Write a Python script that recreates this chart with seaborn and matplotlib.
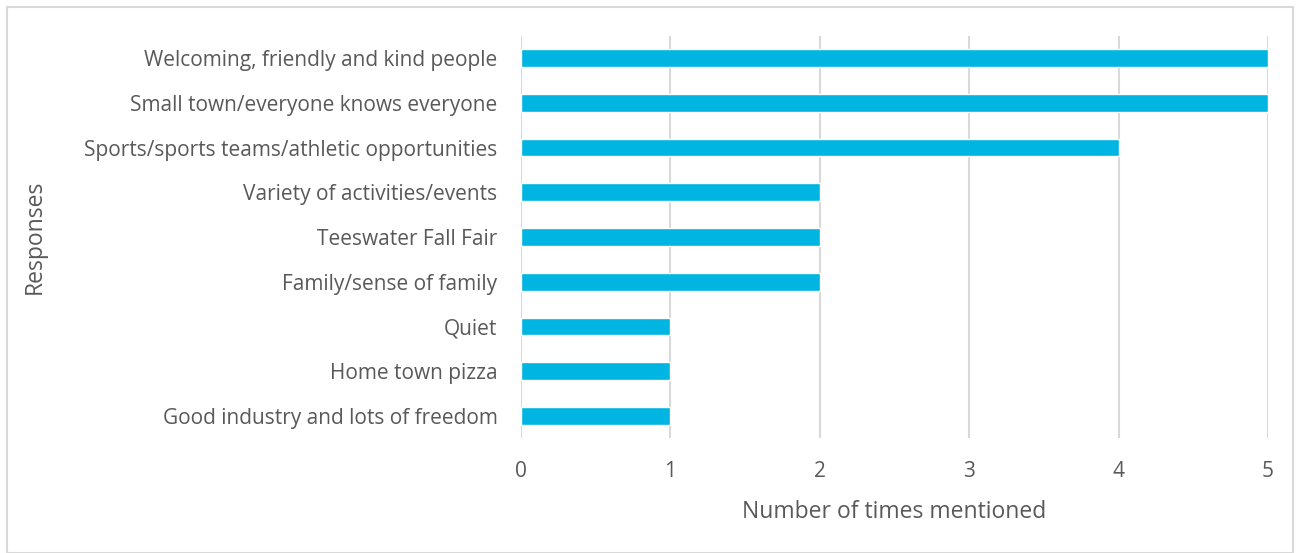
import matplotlib
matplotlib.use("Agg")
import matplotlib.pyplot as plt
import seaborn as sns
import pandas as pd

responses = [
    "Welcoming, friendly and kind people",
    "Small town/everyone knows everyone",
    "Sports/sports teams/athletic opportunities",
    "Variety of activities/events",
    "Teeswater Fall Fair",
    "Family/sense of family",
    "Quiet",
    "Home town pizza",
    "Good industry and lots of freedom",
]
counts = [5, 5, 4, 2, 2, 2, 1, 1, 1]

df = pd.DataFrame({"Responses": responses, "Count": counts})

sns.set_style("white")
plt.rcParams["font.family"] = ["Open Sans", "DejaVu Sans"]
text_color = "#595959"

fig = plt.figure(figsize=(13, 5.53), dpi=100)
ax = fig.add_axes([0.4008, 0.2072, 0.5746, 0.7284])

sns.barplot(data=df, x="Count", y="Responses", ax=ax, color="#00B5E2",
            width=0.4, saturation=1, orient="h")

ax.set_xlim(0, 5)
ax.set_ylim(8.5, -0.5)
ax.set_xticks(range(0, 6))
ax.xaxis.grid(True, color="#d9d9d9", linewidth=1.5)
ax.set_axisbelow(True)
for s in ax.spines.values():
    s.set_visible(False)
ax.tick_params(axis="both", length=0, labelsize=15, colors=text_color)
ax.tick_params(axis="x", pad=16)
ax.tick_params(axis="y", pad=17)
ax.set_xlabel("Number of times mentioned", fontsize=16.5, color=text_color, labelpad=13)
ax.set_ylabel("Responses", fontsize=16.5, color=text_color)
ax.yaxis.set_label_coords(-0.635, 0.5)

fig.patches.append(plt.Rectangle((7 / 1300, 0), 1286 / 1300, 1 - 7 / 553,
                                 transform=fig.transFigure, fill=False,
                                 edgecolor="#d9d9d9", linewidth=1.5))

fig.savefig("out.png", dpi=100)
